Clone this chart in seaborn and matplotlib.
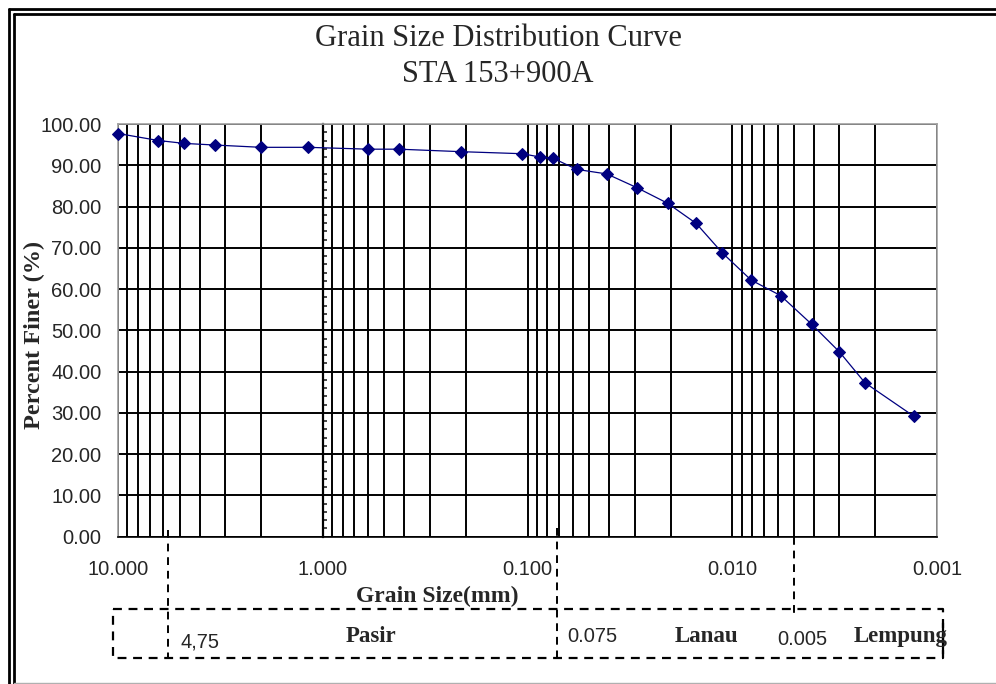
import matplotlib
matplotlib.use("Agg")
from matplotlib import pyplot as plt
from matplotlib import ticker
from matplotlib.lines import Line2D
import seaborn as sns
import pandas as pd

# Grain size (mm) and percent finer
grain_size = [10.0, 6.35, 4.75, 3.35, 2.0, 1.18, 0.6, 0.425, 0.212, 0.106, 0.087,
              0.075, 0.0575, 0.041, 0.0293, 0.0207, 0.015, 0.0112, 0.0081,
              0.0058, 0.0041, 0.0030, 0.00225, 0.0013]
percent_finer = [97.7, 96.0, 95.3, 94.9, 94.35, 94.35, 93.9, 93.9, 93.3, 92.8, 92.0,
                 91.7, 89.0, 87.9, 84.6, 80.8, 75.9, 68.8, 62.2,
                 58.4, 51.5, 44.8, 37.3, 29.2]

x_ticks = [10, 1, 0.1, 0.01, 0.001]
y_ticks = [0, 10, 20, 30, 40, 50, 60, 70, 80, 90, 100]

# classification boundaries and labels
bound_labels = ["4,75", "0.075", "0.005"]
soil_names = ["Pasir", "Lanau", "Lempung"]

df = pd.DataFrame({"Grain Size": grain_size, "Percent Finer": percent_finer})

sns.set_style("white")
plt.rcParams["font.family"] = ["Liberation Sans", "DejaVu Sans"]

fig = plt.figure(figsize=(9.96, 6.84), dpi=100)
ax = fig.add_axes([0.1185, 0.2154, 0.8223, 0.6033])

sns.lineplot(data=df, x="Grain Size", y="Percent Finer", sort=False, marker="D",
             markersize=6.5, color="#000080", markeredgecolor="#000080",
             linewidth=0.9, ax=ax, clip_on=False, zorder=5)

ax.set_xscale("log")
ax.set_xlim(10, 0.001)
ax.set_ylim(0, 100)
ax.xaxis.set_major_locator(ticker.FixedLocator(x_ticks))
ax.xaxis.set_major_formatter(ticker.FormatStrFormatter("%.3f"))
ax.xaxis.set_minor_locator(ticker.LogLocator(base=10, subs=range(2, 10), numticks=50))
ax.xaxis.set_minor_formatter(ticker.NullFormatter())
ax.yaxis.set_major_locator(ticker.FixedLocator(y_ticks))
ax.yaxis.set_major_formatter(ticker.FormatStrFormatter("%.2f"))

ax.set_axisbelow(True)
ax.grid(which="both", axis="x", color="black", linewidth=1.4)
ax.grid(which="major", axis="y", color="black", linewidth=1.4)

for side in ["top", "right", "left"]:
    ax.spines[side].set_color("#a0a0a0")
    ax.spines[side].set_linewidth(1.2)
ax.spines["bottom"].set_color("black")
ax.spines["bottom"].set_linewidth(1.2)

ax.tick_params(axis="x", which="major", direction="out", length=5, width=1,
               color="black", pad=12, labelsize=14.5)
ax.tick_params(axis="x", which="minor", length=0)
ax.tick_params(axis="y", which="major", length=0, pad=12, labelsize=14.5)

# the vertical axis crossing at 1.000
sec = ax.secondary_yaxis(0.25)
sec.yaxis.set_major_locator(ticker.FixedLocator(y_ticks))
sec.yaxis.set_minor_locator(ticker.MultipleLocator(2))
sec.tick_params(which="both", direction="in", labelleft=False, width=1.2)
sec.tick_params(which="major", length=0)
sec.tick_params(which="minor", length=3)
sec.spines["left"].set_linewidth(1.6)
sec.spines["left"].set_color("black")

ax.set_xlabel("Grain Size(mm)", fontfamily="Liberation Serif", fontweight="bold",
              fontsize=17)
ax.xaxis.set_label_coords(0.39, -0.119)
ax.set_ylabel("Percent Finer (%)", fontfamily="Liberation Serif", fontweight="bold",
              fontsize=17.5)
ax.yaxis.set_label_coords(-0.089, 0.489)

fig.text(0.5, 1 - 39 / 684, "Grain Size Distribution Curve", ha="center", va="center",
         fontfamily="Liberation Serif", fontsize=22)
fig.text(0.5, 1 - 75 / 684, "STA 153+900A", ha="center", va="center",
         fontfamily="Liberation Serif", fontsize=22)

# classification band below the axis (hand-placed in the original)
box_top, box_bot = -0.175, -0.294
line_x = [0.0614, 0.5357, 0.8258]
line_tops = [0.016, 0.021, 0.0]
line_bots = [box_bot, box_bot, -0.195]
for lx, t0, t1 in zip(line_x, line_tops, line_bots):
    ax.plot([lx, lx], [t0, t1], transform=ax.transAxes, color="black",
            linestyle=(0, (4, 3)), linewidth=1.4, clip_on=False)

box_x = [-0.006, 1.007, 1.007, -0.006, -0.006]
box_y = [box_top, box_top, box_bot, box_bot, box_top]
ax.plot(box_x, box_y, transform=ax.transAxes, color="black", linestyle=(0, (4, 3)),
        linewidth=1.6, clip_on=False)
ax.plot([1.007, 1.007], [-0.21, -0.285], transform=ax.transAxes, color="black",
        linewidth=1.6, clip_on=False)

label_x = [0.0757, 0.548, 0.8046]
label_y = [-0.256, -0.243, -0.250]
for lx, ly, lab in zip(label_x, label_y, bound_labels):
    ax.text(lx, ly, lab, transform=ax.transAxes, ha="left", va="center",
            fontsize=14.5)

name_x = [0.309, 0.718, 0.956]
for nx, name in zip(name_x, soil_names):
    ax.text(nx, -0.243, name, transform=ax.transAxes, ha="center", va="center",
            fontfamily="Liberation Serif", fontweight="bold", fontsize=16.5)

# double frame around the picture
W, H = 996, 684
for xs, ys in [([8.5, W], [8.5, 8.5]), ([8.5, 8.5], [8.5, H]),
               ([14, W], [14.2, 14.2]), ([14, 14], [14.2, H])]:
    fig.add_artist(Line2D([x / W for x in xs], [1 - y / H for y in ys],
                          transform=fig.transFigure, color="black", linewidth=2))
fig.add_artist(Line2D([14 / W, 1], [1 - 683 / H, 1 - 683 / H], transform=fig.transFigure,
                      color="#b0b0b0", linewidth=1))

plt.savefig("out.png", dpi=100)
